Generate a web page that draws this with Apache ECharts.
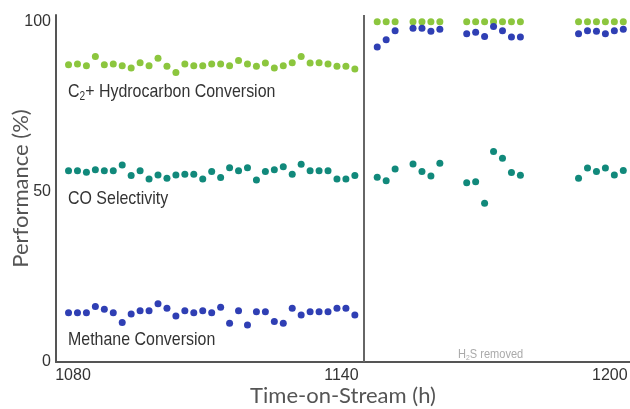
<!DOCTYPE html>
<html>
<head>
<meta charset="utf-8">
<script src="https://cdn.jsdelivr.net/npm/echarts@6/dist/echarts.min.js"></script>
<style>
html,body{margin:0;padding:0;background:#fff;}
#chart{width:630px;height:409px;}
</style>
</head>
<body>
<div id="chart"></div>
<script>
// Time-on-stream (h)
var timesBefore = [1079,1081,1083,1085,1087,1089,1091,1093,1095,1097,1099,1101,1103,1105,1107,1109,1111,1113,1115,1117,1119,1121,1123,1125,1127,1129,1131,1133,1135,1137,1139,1141,1143];
var timesAfter = [1148,1150,1152,1156,1158,1160,1162,1168,1170,1172,1174,1176,1178,1180,1193,1195,1197,1199,1201,1203];
var h2sRemovedAt = 1145;

// C2+ hydrocarbon conversion (%)
var c2Before = [87.4,87.6,87.1,89.8,87.4,87.6,87.1,86.4,88.0,87.1,89.3,86.9,85.1,87.6,87.1,87.1,87.6,87.6,87.1,88.6,87.6,86.9,87.9,86.4,87.1,88.0,89.8,87.9,88.0,87.6,86.9,86.9,86.1];
var c2After = [100,100,100,100,100,100,100,100,100,100,100,100,100,100,100,100,100,100,100,100];

// CO selectivity (%)
var coBefore = [56.2,56.2,55.8,56.5,56.2,56.2,57.9,54.8,56.2,53.8,55.0,54.0,55.0,55.2,55.2,53.8,56.0,54.2,57.1,56.2,57.1,53.5,56.0,56.5,57.4,55.2,58.1,56.2,56.2,56.2,53.8,53.8,54.8];
var coAfter = [54.3,53.3,56.7,58.2,56.0,54.7,58.4,52.7,53.0,46.7,61.9,59.9,55.7,54.9,54.0,57.0,56.0,57.0,55.0,56.3];

// Methane conversion (%)
var ch4Before = [14.5,14.5,14.5,16.3,15.5,14.5,11.6,14.1,15.1,15.1,17.1,15.8,13.5,15.1,14.5,15.1,14.5,16.1,11.4,15.1,10.9,14.8,14.8,11.9,11.4,15.8,13.8,14.8,14.8,14.8,15.8,15.8,13.8];
var ch4After = [92.6,94.7,97.4,98.1,98.1,97.2,97.8,96.5,96.9,95.7,98.6,97.4,95.5,95.5,96.5,97.4,97.2,96.5,97.4,97.8];

var xTicks = [1080,1140,1200];
var yTicks = [0,50,100];

function pairs(ts, vs){ return ts.map(function(t,i){ return [t, vs[i]]; }); }

var chart = echarts.init(document.getElementById('chart'), null, {renderer:'canvas'});
var sans = '"Liberation Sans",Arial,sans-serif';
var dotSize = 7;
var lblScale = 0.84;

chart.setOption({
  animation:false,
  backgroundColor:'#fff',
  grid:{left:56, right:0, top:15, bottom:47, containLabel:false, outerBoundsMode:'none'},
  xAxis:{
    type:'value', min:1076.2, max:1204.5,
    splitLine:{show:false},
    axisLine:{show:true, onZero:false, lineStyle:{color:'#555', width:2}},
    axisTick:{show:false},
    axisLabel:{customValues:xTicks, formatter:function(v){return String(v);}, color:'#333', fontSize:16, fontFamily:sans, margin:6},
    name:'Time-on-Stream (h)', nameLocation:'middle', nameGap:23, nameMoveOverlap:false,
    nameTextStyle:{fontFamily:'Lato, "Noto Sans", sans-serif', fontSize:22, color:'#555'}
  },
  yAxis:{
    type:'value', min:0, max:102,
    splitLine:{show:false},
    axisLine:{show:true, onZero:false, lineStyle:{color:'#555', width:2}},
    axisTick:{show:false},
    axisLabel:{customValues:yTicks, formatter:function(v){return String(v);}, color:'#333', fontSize:16, fontFamily:sans, margin:5},
    name:'Performance (%)', nameLocation:'middle', nameGap:24, nameMoveOverlap:false,
    nameTextStyle:{fontFamily:'Lato, "Noto Sans", sans-serif', fontSize:22, color:'#555'}
  },
  series:[
    {type:'scatter', name:'C2+', symbolSize:dotSize, itemStyle:{color:'#8cc63e', opacity:1},
     data:pairs(timesBefore,c2Before).concat(pairs(timesAfter,c2After)),
     markLine:{silent:true, symbol:'none', label:{show:false},
       lineStyle:{color:'#666', width:2, type:'solid'},
       data:[{xAxis:h2sRemovedAt}]}},
    {type:'scatter', name:'CO', symbolSize:dotSize, itemStyle:{color:'#11897b', opacity:1},
     data:pairs(timesBefore,coBefore).concat(pairs(timesAfter,coAfter))},
    {type:'scatter', name:'CH4', symbolSize:dotSize, itemStyle:{color:'#2f3fb4', opacity:1},
     data:pairs(timesBefore,ch4Before).concat(pairs(timesAfter,ch4After))}
  ],
  graphic:[
    {type:'text', x:68, y:81, scaleX:lblScale, style:{
      text:'{n|C}{s|2}{n|+ Hydrocarbon Conversion}',
      rich:{n:{fontSize:19, fontFamily:sans, fill:'#333'}, s:{fontSize:12, fontFamily:sans, fill:'#333', padding:[10,0,0,0]}}}},
    {type:'text', x:68, y:189, scaleX:lblScale, style:{text:'CO Selectivity', fontSize:19, fontFamily:sans, fill:'#333'}},
    {type:'text', x:68, y:330, scaleX:lblScale, style:{text:'Methane Conversion', fontSize:19, fontFamily:sans, fill:'#333'}},
    {type:'text', x:458, y:346, scaleX:0.85, style:{
      text:'{n|H}{s|2}{n|S removed}',
      rich:{n:{fontSize:13, fontFamily:sans, fill:'#aaa'}, s:{fontSize:8, fontFamily:sans, fill:'#aaa', padding:[8,0,0,0]}}}}
  ]
});
</script>
</body>
</html>
